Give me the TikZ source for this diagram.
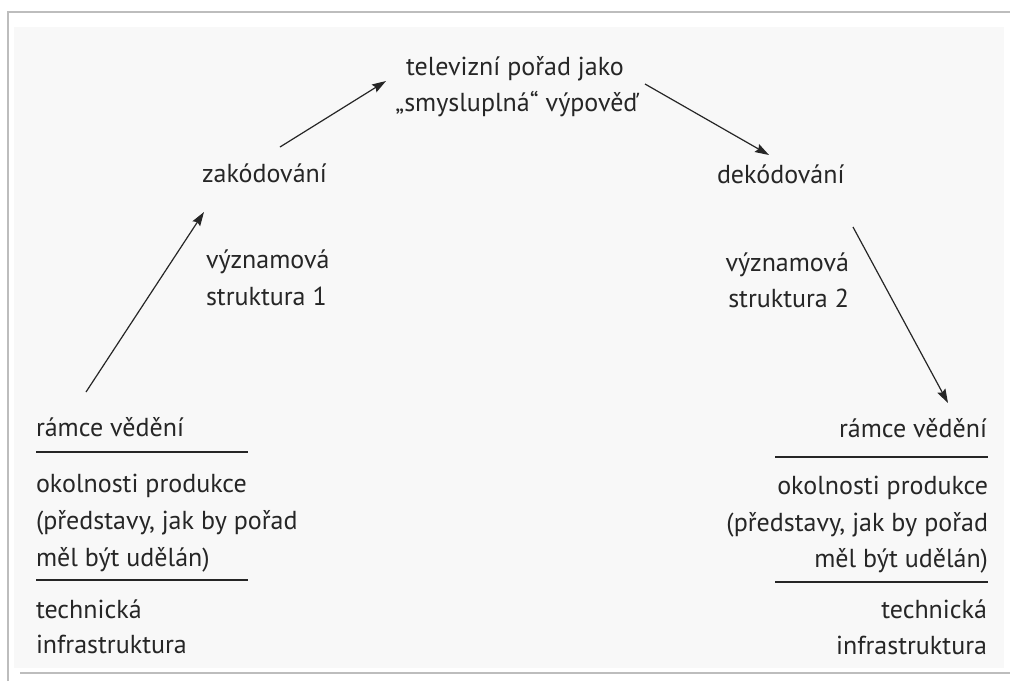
\documentclass[tikz,border=0pt]{standalone}
\usepackage{fontspec}
\setmainfont{PT Sans}
\usetikzlibrary{arrows.meta}
\definecolor{ink}{HTML}{262626}
\definecolor{framec}{HTML}{BDBDBD}
\definecolor{scanbg}{HTML}{F8F8F8}
\newcommand{\fsz}{\fontsize{26}{31}\selectfont}
\begin{document}
\begin{tikzpicture}[x=1pt,y=-1pt,
  lbl/.style={inner sep=0pt, outer sep=0pt, font=\fsz, text=ink},
  arr/.style={draw=ink, line width=1.2pt, -{Stealth[length=14pt,width=9pt,inset=2pt]}},
  rule/.style={draw=ink, line width=1.1pt},
  frameline/.style={draw=framec, line width=1.2pt}]
\useasboundingbox (0,0) rectangle (1010,681);
\fill[white] (0,0) rectangle (1010,681);
\fill[scanbg] (14,27) rectangle (1004,668);
% frame
\draw[frameline] (8,681) -- (8,12) -- (1010,12);
\draw[frameline] (20,673) -- (1010,673);
% top
\node[lbl, anchor=base] (tv1) at (515,75) {televizní pořad jako};
\node[lbl, anchor=base] (tv2) at (517,111) {„smysluplná“ výpověď};
% encoding side
\node[lbl, anchor=base west] (zak) at (202,182) {zakódování};
\node[lbl, anchor=base west] (vs1a) at (206,268) {významová};
\node[lbl, anchor=base west] (vs1b) at (206,305) {struktura 1};
% decoding side
\node[lbl, anchor=base west] (dek) at (717,183) {dekódování};
\node[lbl, anchor=base east] (vs2a) at (849,271) {významová};
\node[lbl, anchor=base east] (vs2b) at (849,307) {struktura 2};
% left block
\node[lbl, anchor=base west] (l1) at (36,436) {rámce vědění};
\node[lbl, anchor=base west] (l2) at (36,492) {okolnosti produkce};
\node[lbl, anchor=base west] (l3) at (36,529) {(představy, jak by pořad};
\node[lbl, anchor=base west] (l4) at (36,566) {měl být udělán)};
\node[lbl, anchor=base west] (l5) at (36,618) {technická};
\node[lbl, anchor=base west] (l6) at (36,653) {infrastruktura};
\draw[rule] (36,452) -- (248,452);
\draw[rule] (36,580) -- (248,580);
% right block
\node[lbl, anchor=base east] (r1) at (987,437) {rámce vědění};
\node[lbl, anchor=base east] (r2) at (988,494) {okolnosti produkce};
\node[lbl, anchor=base east] (r3) at (988,531) {(představy, jak by pořad};
\node[lbl, anchor=base east] (r4) at (988,567) {měl být udělán)};
\node[lbl, anchor=base east] (r5) at (987,618) {technická};
\node[lbl, anchor=base east] (r6) at (987,654) {infrastruktura};
\draw[rule] (775,457) -- (988,457);
\draw[rule] (775,582) -- (988,582);
% arrow ends
\coordinate (a1s) at (86,392);
\coordinate (a1e) at (204,212);
\coordinate (a2s) at (280,147);
\coordinate (a2e) at (386,81);
\coordinate (a3s) at (645,84);
\coordinate (a3e) at (769,155);
\coordinate (a4s) at (853,227);
\coordinate (a4e) at (948,403);
\draw[arr] (a1s) -- (a1e);
\draw[arr] (a2s) -- (a2e);
\draw[arr] (a3s) -- (a3e);
\draw[arr] (a4s) -- (a4e);
\end{tikzpicture}
\end{document}
